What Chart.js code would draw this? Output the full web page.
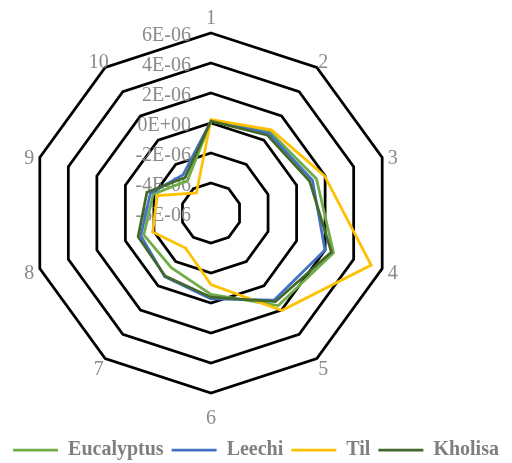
<!DOCTYPE html>
<html>
<head>
<meta charset="utf-8">
<title>Radar</title>
<script src="https://cdn.jsdelivr.net/npm/chart.js@4.4.1/dist/chart.umd.min.js"></script>
<style>
  html, body { margin: 0; padding: 0; background: #ffffff; }
  #wrap { width: 512px; height: 463px; }
</style>
</head>
<body>
<div id="wrap"><canvas id="chart"></canvas></div>
<script>
// Axis names around the decagon
const axisLabels = ['1', '2', '3', '4', '5', '6', '7', '8', '9', '10'];

// Radial ticks and how they are printed
const tickValues = [-6e-6, -4e-6, -2e-6, 0, 2e-6, 4e-6, 6e-6];
const tickLabels = ['-6E-06', '-4E-06', '-2E-06', '0E+00', '2E-06', '4E-06', '6E-06'];

// Series values, one per axis
const eucalyptus = [0.13e-6, 0.69e-6, 1.39e-6, 2.59e-6, 1.63e-6, -0.57e-6, -1.5e-6, -1.29e-6, -1.95e-6, -3.33e-6];
const leechi = [0.13e-6, 0.57e-6, 1.11e-6, 1.99e-6, 1.17e-6, -0.28e-6, -0.75e-6, -1.08e-6, -1.75e-6, -2.84e-6];
const til = [0.23e-6, 0.85e-6, 1.97e-6, 5.23e-6, 2.03e-6, -1.23e-6, -3.11e-6, -1.91e-6, -2.23e-6, -4.35e-6];
const kholisa = [0.13e-6, 0.41e-6, 0.91e-6, 2.44e-6, 1.31e-6, -0.39e-6, -0.8e-6, -0.89e-6, -1.51e-6, -3.07e-6];

const TEXT_GREY = '#8a8a8a';
const SERIF = '"Liberation Serif", "Times New Roman", serif';

// Plot geometry: the web sits left of the canvas centre
const CENTER_X = 211;
const CENTER_Y = 213;
const RADIUS = 180;

function series(label, data, color, order) {
  return {
    label,
    data,
    borderColor: color,
    backgroundColor: color,
    borderWidth: 2.75,
    pointRadius: 0,
    pointHoverRadius: 0,
    fill: false,
    tension: 0,
    order
  };
}

// Tick values beside the top spoke and axis numbers round the outside
const axisText = {
  id: 'axisText',
  beforeDatasetsDraw(chart) {
    const scale = chart.scales.r;
    const ctx = chart.ctx;
    ctx.save();
    ctx.font = '20px ' + SERIF;
    ctx.fillStyle = TEXT_GREY;
    ctx.textBaseline = 'alphabetic';

    ctx.textAlign = 'right';
    scale.ticks.forEach((tick, i) => {
      const y = scale.yCenter - scale.getDistanceFromCenterForValue(tick.value);
      ctx.fillText(tickLabels[i], scale.xCenter - 20, y + 8);
    });

    ctx.textAlign = 'center';
    axisLabels.forEach((label, i) => {
      const cos = Math.cos(scale.getIndexAngle(i));
      // keep the top and bottom numbers clear of the outer ring
      const extra = cos > 0.9 ? 8 : (cos < -0.9 ? 13 : 0);
      const shift = cos > 0.1 ? 3 : 0;
      const pos = scale.getPointPosition(i, scale.drawingArea + 11 + extra);
      ctx.fillText(label, pos.x, pos.y + 7 + shift);
    });
    ctx.restore();
  }
};

new Chart(document.getElementById('chart'), {
  type: 'radar',
  data: {
    labels: axisLabels,
    datasets: [
      series('Eucalyptus', eucalyptus, '#70ad47', 4),
      series('Leechi', leechi, '#4472c4', 3),
      series('Til', til, '#ffc000', 2),
      series('Kholisa', kholisa, '#43682b', 1)
    ]
  },
  options: {
    responsive: true,
    maintainAspectRatio: false,
    animation: false,
    layout: { padding: { bottom: -7 } },
    plugins: {
      tooltip: { enabled: false },
      legend: {
        display: true,
        position: 'bottom',
        labels: {
          usePointStyle: true,
          pointStyle: 'line',
          pointStyleWidth: 45,
          padding: 8,
          color: '#7f7f7f',
          font: { family: SERIF, size: 20, weight: 'bold' },
          sort: (a, b) => a.datasetIndex - b.datasetIndex
        }
      }
    },
    scales: {
      r: {
        min: -6e-6,
        max: 6e-6,
        afterBuildTicks: (scale) => {
          scale.ticks = tickValues.map(value => ({ value }));
        },
        afterFit: (scale) => {
          scale.xCenter = CENTER_X;
          scale.yCenter = CENTER_Y;
          scale.drawingArea = RADIUS;
        },
        angleLines: { display: false },
        grid: {
          color: (ctx) => ctx.index === 0 ? 'rgba(0,0,0,0)' : '#000000',
          lineWidth: 2.75
        },
        ticks: { display: false },
        pointLabels: { display: false }
      }
    }
  },
  plugins: [axisText]
});
</script>
</body>
</html>
